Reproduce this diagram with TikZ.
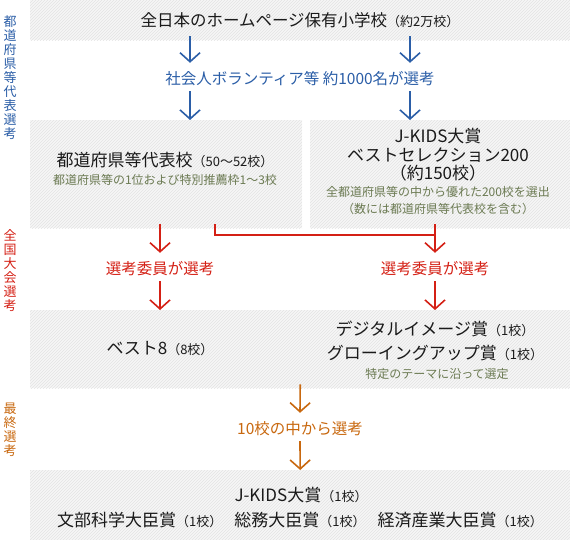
\documentclass[tikz,border=0pt]{standalone}
\usepackage{fontspec}
\setmainfont{Noto Sans CJK JP}
\usetikzlibrary{positioning, arrows.meta, patterns}

\definecolor{selblue}{HTML}{2B5EA7}
\definecolor{selred}{HTML}{D42015}
\definecolor{selorange}{HTML}{C8680F}
\definecolor{noteolive}{HTML}{6B7A52}
\definecolor{inktext}{HTML}{1A1A1A}
\definecolor{panelgray}{HTML}{F6F6F6}
\definecolor{hatchgray}{HTML}{E3E3E3}

\newcommand\sizeL{\fontsize{17}{18.5}\selectfont}
\newcommand\sizeT{\fontsize{16.5}{20}\selectfont}
\newcommand\sizeP{\fontsize{13}{16}\selectfont}

\begin{document}
\begin{tikzpicture}[x=1pt, y=-1pt,
        panel/.style={rectangle, anchor=north west, inner sep=0pt, preaction={fill=panelgray}, pattern=north east lines, pattern color=hatchgray},
        maintext/.style={inner sep=0pt, text=inktext, align=center},
        notetext/.style={inner sep=0pt, text=noteolive, align=center, font=\fontsize{12}{17}\selectfont},
        steplabel/.style={inner sep=0pt, minimum height=32pt, font=\fontsize{15.5}{18}\selectfont},
        sidetext/.style={inner sep=0pt, align=center, font=\fontsize{13}{14}\selectfont},
        flowarrow/.style={line width=1.6pt, shorten <=-4pt, -{Straight Barb[length=9pt,width=20pt]}},
    ]
        \useasboundingbox (0,0) rectangle (570,540);

        % panels
        \node[panel, minimum width=540pt, minimum height=40pt] (toppanel) at (30,0) {};
        \node[panel, minimum width=272pt, minimum height=108pt] (prefpanel) at (30,120) {};
        \node[panel, minimum width=260pt, minimum height=108pt] (bestpanel) at (310,120) {};
        \node[panel, minimum width=540pt, minimum height=78pt] (awardpanel) at (30,310) {};
        \node[panel, minimum width=540pt, minimum height=70pt] (finalpanel) at (30,470) {};

        % stage names
        \node[sidetext, text=selblue] (stagepref) at (10,78) {都\\道\\府\\県\\等\\代\\表\\選\\考};
        \node[sidetext, text=selred] (stagenat) at (10,271) {全\\国\\大\\会\\選\\考};
        \node[sidetext, text=selorange] (stagefinal) at (10,430) {最\\終\\選\\考};

        % texts in panels
        \node[maintext] (allschools) at (300,20) {\sizeT 全日本のホームページ保有小学校{\sizeP（約2万校）}};
        \node[maintext] (preftitle) at (165,160) {\sizeL 都道府県等代表校{\sizeP（50〜52校）}};
        \node[notetext] (prefnote) at (165,180) {都道府県等の1位および特別推薦枠1〜3校};
        \node[maintext, font=\sizeL] (besttitle) at (438,155) {J-KIDS大賞\\ベストセレクション200\\（約150校）};
        \node[notetext] (bestnote) at (438,200.5) {全都道府県等の中から優れた200校を選出\\（数には都道府県等代表校を含む）};
        \node[maintext] (best8) at (160,349) {\sizeL ベスト8{\sizeP（8校）}};
        \node[maintext, font=\fontsize{17}{24}\selectfont] (themeawards) at (435,341) {デジタルイメージ賞{\sizeP（1校）}\\グローイングアップ賞{\sizeP（1校）}};
        \node[notetext] (themenote) at (437,374) {特定のテーマに沿って選定};
        \node[maintext] (grandprize) at (301,495) {\sizeL J-KIDS大賞{\sizeP（1校）}};
        \node[maintext] (ministers) at (300,520) {\sizeL 文部科学大臣賞{\sizeP（1校）}\hspace{12pt}総務大臣賞{\sizeP（1校）}\hspace{12pt}経済産業大臣賞{\sizeP（1校）}};

        % selection steps
        \node[steplabel, text=selblue] (volsel) at (300,79) {社会人ボランティア等 約1000名が選考};
        \node[steplabel, text=selred] (redselL) at (160,269) {選考委員が選考};
        \node[steplabel, text=selred] (redselR) at (435,269) {選考委員が選考};
        \node[steplabel, text=selorange] (finalsel) at (300,429) {10校の中から選考};

        % lanes
        \coordinate (laneA) at (190,0);
        \coordinate (laneB) at (410,0);
        \coordinate (laneC) at (160,0);
        \coordinate (laneD) at (215,0);
        \coordinate (laneE) at (435,0);
        \coordinate (join) at (435,235);

        \draw[flowarrow, selblue] (toppanel.south -| laneA) -- (volsel.north -| laneA);
        \draw[flowarrow, selblue] (toppanel.south -| laneB) -- (volsel.north -| laneB);
        \draw[flowarrow, selblue] (volsel.south -| laneA) -- (prefpanel.north -| laneA);
        \draw[flowarrow, selblue] (volsel.south -| laneB) -- (bestpanel.north -| laneB);

        \draw[flowarrow, selred] (prefpanel.south -| laneC) -- (redselL.north);
        \draw[flowarrow, selred] (bestpanel.south -| laneE) -- (redselR.north);
        \draw[line width=1.6pt, shorten <=-4pt, selred] (prefpanel.south -| laneD) |- (join);
        \draw[flowarrow, selred] (redselL.south) -- (awardpanel.north -| laneC);
        \draw[flowarrow, selred] (redselR.south) -- (awardpanel.north -| laneE);

        \draw[flowarrow, selorange] (awardpanel.south) -- (finalsel.north);
        \draw[flowarrow, selorange] (finalsel.south) -- (finalpanel.north);
    \end{tikzpicture}
\end{document}
